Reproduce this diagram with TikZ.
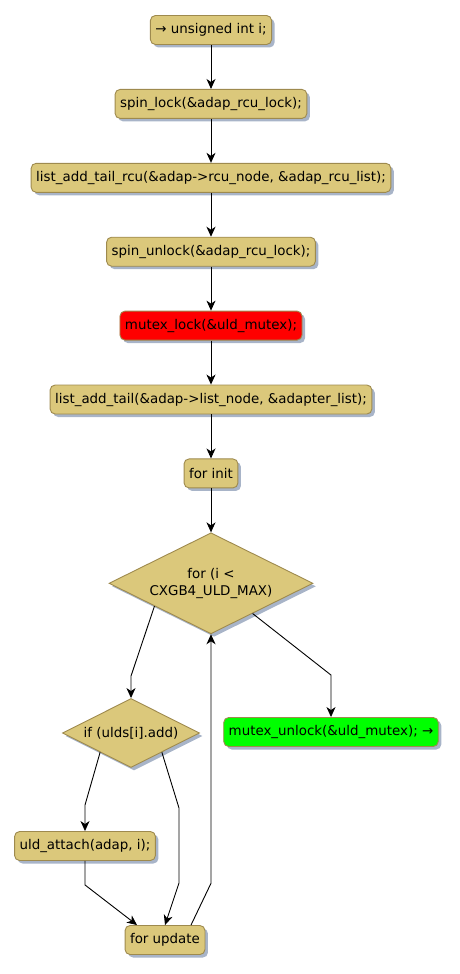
\documentclass[tikz,border=0pt]{standalone}
\usepackage{fontspec}
\setmainfont{DejaVu Sans}
\usetikzlibrary{arrows.meta,positioning,shapes.geometric,shadows}
\definecolor{actfill}{RGB}{219,200,123}
\definecolor{actline}{RGB}{158,138,78}
\definecolor{shadowc}{RGB}{168,180,200}

\begin{document}
\begin{tikzpicture}[x=1pt, y=1pt, line width=0.9pt, >={Stealth[length=10pt, width=9pt, inset=3pt]},
  every node/.style={font=\fontsize{13.4}{17}\selectfont},
  shade/.style={drop shadow={shadow xshift=3pt, shadow yshift=-3pt, fill=shadowc, opacity=1}},
  act/.style={draw=actline, fill=actfill, rounded corners=5pt, minimum height=29pt, inner xsep=5pt, inner ysep=2pt, shade},
  cond/.style={diamond, draw=actline, fill=actfill, aspect=2, inner sep=0pt, align=center, shade},
  node distance=44pt]
  \useasboundingbox (0,0) rectangle (459,-974);
  % main sequence
  \node[act] (decl) at (211,-30) {→ unsigned int i;};
  \node[act, below=of decl] (lock) {spin\_lock(\&adap\_rcu\_lock);};
  \node[act, below=of lock] (rcuadd) {list\_add\_tail\_rcu(\&adap->rcu\_node, \&adap\_rcu\_list);};
  \node[act, below=of rcuadd] (unlock) {spin\_unlock(\&adap\_rcu\_lock);};
  \node[act, fill=red, below=of unlock] (mlock) {mutex\_lock(\&uld\_mutex);};
  \node[act, below=of mlock] (listadd) {list\_add\_tail(\&adap->list\_node, \&adapter\_list);};
  \node[act, below=of listadd] (init) {for init};
  \node[cond, minimum width=204pt, minimum height=101pt, below=of init] (loop) {for (i <\\CXGB4\_ULD\_MAX)};
  % loop body
  \node[cond, minimum width=137pt, minimum height=69pt] (ifadd) at (131,-733) {if (ulds[i].add)};
  \node[act, fill=green] (munlock) at (331,-732) {mutex\_unlock(\&uld\_mutex); →};
  \node[act] (attach) at (85,-846) {uld\_attach(adap, i);};
  \node[act] (upd) at (165,-940) {for update};

  \foreach \a/\b in {decl/lock, lock/rcuadd, rcuadd/unlock, unlock/mlock, mlock/listadd, listadd/init, init/loop}
    \draw[->] (\a) -- (\b);
  \draw[->] (loop.202) -- ([yshift=22pt]ifadd.north) -- (ifadd.north);
  \draw[->] (loop.-36) -- ([yshift=42pt]munlock.north) -- (munlock.north);
  \draw[->] (ifadd.212) -- ([yshift=26pt]attach.north) -- (attach.north);
  \draw[->] (ifadd.-32) -- ([xshift=14pt, yshift=117pt]upd.north) -- ([xshift=14pt, yshift=42pt]upd.north) -- (upd.north);
  \draw[->] (attach.south) -- ++(0,-24) -- ([xshift=-28pt]upd.north);
  \draw[->] ([xshift=26pt]upd.north) -- ([yshift=-249pt]loop.south) -- (loop.south);
\end{tikzpicture}
\end{document}
